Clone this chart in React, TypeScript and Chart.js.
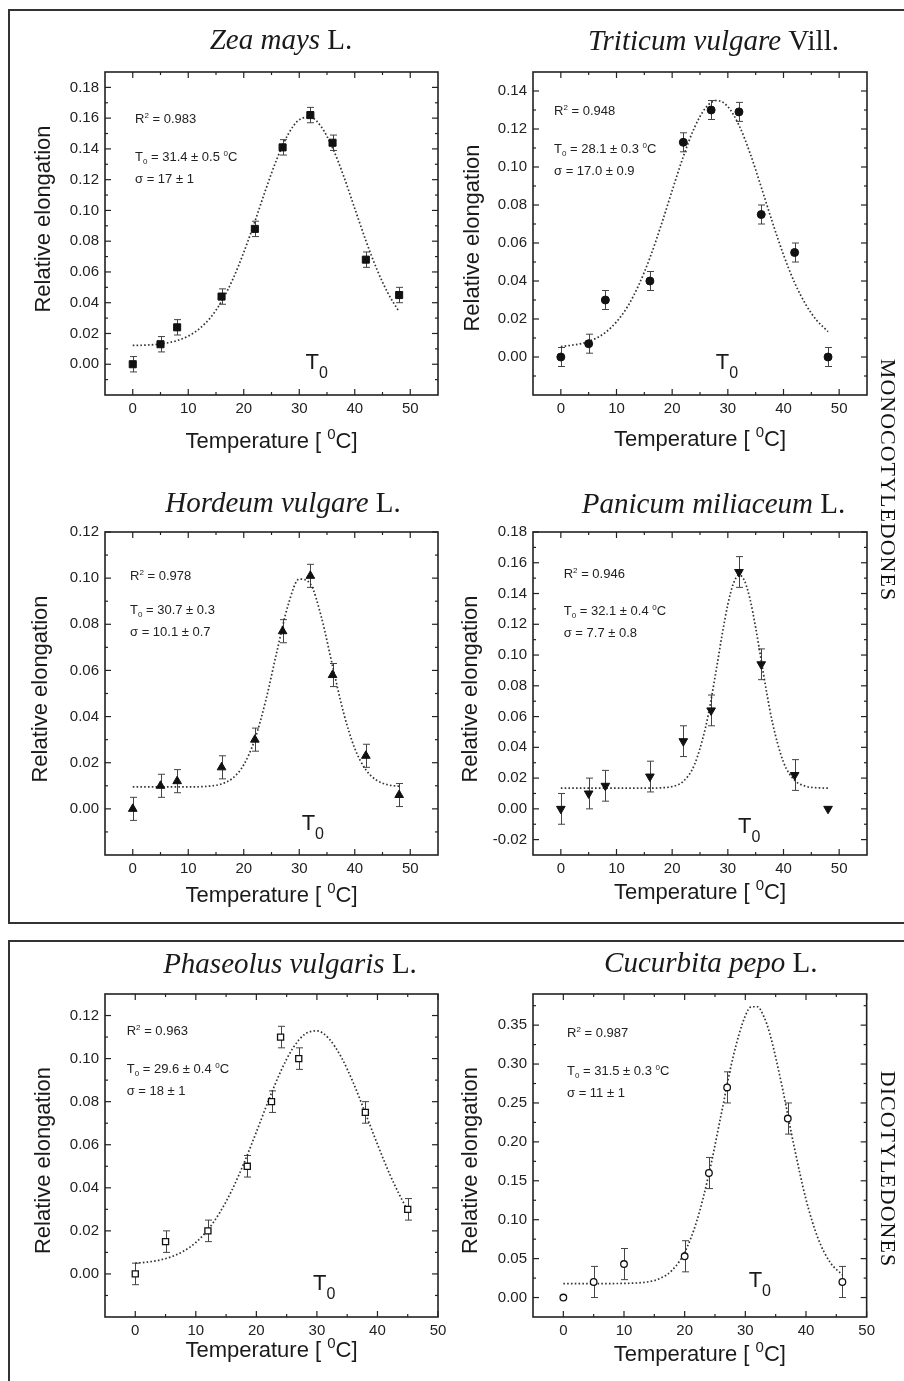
import React, { useEffect, useRef } from "react";
import { Chart, registerables } from "chart.js";

Chart.register(...registerables);

const SANS = "'Liberation Sans', Arial, sans-serif";
const SERIF = "'Liberation Serif', 'Times New Roman', serif";

// ---------------- shared tick labels ----------------
const tempTicks = [0, 10, 20, 30, 40, 50];

// ---------------- Zea mays L. ----------------
const zeaTemp = [0, 5, 8, 16, 22, 27, 32, 36, 42, 48];
const zeaElong = [0.0, 0.013, 0.024, 0.044, 0.088, 0.141, 0.162, 0.144, 0.068, 0.045];
const zeaErr = [0.005, 0.005, 0.005, 0.005, 0.005, 0.005, 0.005, 0.005, 0.005, 0.005];
const zeaFitTemp = [0, 2, 4, 6, 8, 10, 12, 14, 16, 18, 20, 22, 24, 26, 28, 30, 32, 34, 36, 38, 40, 42, 44, 46, 48];
const zeaFitElong = [0.0122, 0.0124, 0.0128, 0.0137, 0.0154, 0.0183, 0.0231, 0.0303, 0.0409, 0.055, 0.0727, 0.0928, 0.114, 0.1337, 0.1495, 0.159, 0.1606, 0.1542, 0.1407, 0.1223, 0.1013, 0.0804, 0.0616, 0.0461, 0.0341];
const zeaYTicks = [0, 0.02, 0.04, 0.06, 0.08, 0.1, 0.12, 0.14, 0.16, 0.18];

// ---------------- Triticum vulgare Vill. ----------------
const triTemp = [0, 5, 8, 16, 22, 27, 32, 36, 42, 48];
const triElong = [0.0, 0.007, 0.03, 0.04, 0.113, 0.13, 0.129, 0.075, 0.055, 0.0];
const triErr = [0.005, 0.005, 0.005, 0.005, 0.005, 0.005, 0.005, 0.005, 0.005, 0.005];
const triFitTemp = [0, 2, 4, 6, 8, 10, 12, 14, 16, 18, 20, 22, 24, 26, 28, 30, 32, 34, 36, 38, 40, 42, 44, 46, 48];
const triFitElong = [0.0055, 0.0062, 0.0073, 0.0094, 0.0129, 0.0185, 0.0266, 0.0379, 0.0522, 0.0692, 0.0876, 0.1055, 0.1207, 0.1311, 0.135, 0.1318, 0.122, 0.1072, 0.0894, 0.071, 0.0538, 0.0391, 0.0276, 0.0192, 0.0134];
const triYTicks = [0, 0.02, 0.04, 0.06, 0.08, 0.1, 0.12, 0.14];

// ---------------- Hordeum vulgare L. ----------------
const horTemp = [0, 5, 8, 16, 22, 27, 32, 36, 42, 48];
const horElong = [0.0, 0.01, 0.012, 0.018, 0.03, 0.077, 0.101, 0.058, 0.023, 0.006];
const horErr = [0.005, 0.005, 0.005, 0.005, 0.005, 0.005, 0.005, 0.005, 0.005, 0.005];
const horFitTemp = [0, 2, 4, 6, 8, 10, 12, 14, 16, 18, 20, 22, 24, 26, 28, 30, 32, 34, 36, 38, 40, 42, 44, 46, 48];
const horFitElong = [0.0095, 0.0095, 0.0095, 0.0095, 0.0095, 0.0095, 0.0096, 0.0099, 0.0108, 0.0133, 0.0191, 0.0301, 0.0473, 0.0685, 0.0884, 0.0996, 0.0975, 0.083, 0.062, 0.0415, 0.0262, 0.0169, 0.0123, 0.0104, 0.0098];
const horYTicks = [0, 0.02, 0.04, 0.06, 0.08, 0.1, 0.12];

// ---------------- Panicum miliaceum L. ----------------
const panTemp = [0, 5, 8, 16, 22, 27, 32, 36, 42, 48];
const panElong = [0.0, 0.01, 0.015, 0.021, 0.044, 0.064, 0.154, 0.094, 0.022, 0.0];
const panErr = [0.01, 0.01, 0.01, 0.01, 0.01, 0.01, 0.01, 0.01, 0.01, 0];
const panFitTemp = [0, 2, 4, 6, 8, 10, 12, 14, 16, 18, 20, 22, 24, 26, 27, 28, 29, 30, 31, 32, 33, 34, 35, 36, 37, 38, 40, 42, 44, 46, 48];
const panFitElong = [0.0135, 0.0135, 0.0135, 0.0135, 0.0135, 0.0135, 0.0135, 0.0135, 0.0135, 0.0137, 0.0145, 0.0179, 0.0287, 0.053, 0.0711, 0.0921, 0.1137, 0.1329, 0.1465, 0.152, 0.1483, 0.1361, 0.1178, 0.0965, 0.0752, 0.0563, 0.0304, 0.0186, 0.0147, 0.0137, 0.0135];
const panYTicks = [-0.02, 0, 0.02, 0.04, 0.06, 0.08, 0.1, 0.12, 0.14, 0.16, 0.18];

// ---------------- Phaseolus vulgaris L. ----------------
const phaTemp = [0, 5, 12, 18.5, 22.5, 24, 27, 38, 45];
const phaElong = [0.0, 0.015, 0.02, 0.05, 0.08, 0.11, 0.1, 0.075, 0.03];
const phaErr = [0.005, 0.005, 0.005, 0.005, 0.005, 0.005, 0.005, 0.005, 0.005];
const phaFitTemp = [0, 2, 4, 6, 8, 10, 12, 14, 16, 18, 20, 22, 24, 26, 28, 30, 32, 34, 36, 38, 40, 42, 44, 45];
const phaFitElong = [0.005, 0.0055, 0.0064, 0.008, 0.0106, 0.0146, 0.0205, 0.0287, 0.0391, 0.0518, 0.0659, 0.0805, 0.0939, 0.1047, 0.1113, 0.1129, 0.1092, 0.1008, 0.0888, 0.0747, 0.0602, 0.0465, 0.0347, 0.0296];
const phaYTicks = [0, 0.02, 0.04, 0.06, 0.08, 0.1, 0.12];

// ---------------- Cucurbita pepo L. ----------------
const cucTemp = [0, 5, 10, 20, 24, 27, 37, 46];
const cucElong = [0.0, 0.02, 0.043, 0.053, 0.16, 0.27, 0.23, 0.02];
const cucErr = [0, 0.02, 0.02, 0.02, 0.02, 0.02, 0.02, 0.02];
const cucFitTemp = [0, 2, 4, 6, 8, 10, 12, 14, 16, 18, 20, 22, 24, 26, 28, 30, 31, 32, 33, 34, 36, 38, 40, 42, 44, 46];
const cucFitElong = [0.018, 0.018, 0.018, 0.018, 0.018, 0.0182, 0.0187, 0.0203, 0.0247, 0.0356, 0.0581, 0.0983, 0.1589, 0.2345, 0.3096, 0.362, 0.3736, 0.3736, 0.362, 0.3399, 0.2734, 0.1956, 0.1262, 0.0757, 0.045, 0.0291];
const cucYTicks = [0, 0.05, 0.1, 0.15, 0.2, 0.25, 0.3, 0.35];

// ---------------- panel descriptions ----------------
type Panel = {
  key: string;
  italic: string;
  plain: string;
  temp: number[];
  elong: number[];
  err: number[];
  fitTemp: number[];
  fitElong: number[];
  yTicks: number[];
  yMin: number;
  yMax: number;
  yMinor: number;
  xMin: number;
  xMax: number;
  xMinor: number;
  r2: string;
  t0Text: string;
  t0Unit: boolean;
  sigma: string;
  t0: number;
  marker: { style: string; rot: number; fill: string; r: number };
  canvas: { x: number; y: number; w: number; h: number };
  area: { l: number; t: number; r: number; b: number };
  titleDx: number;
  titleDy: number;
  yTitle: { dx: number; dy: number };
  xTitleDy: number;
  ann: { dx: number; b1: number; b2: number; b3: number };
  t0Dy: number;
};

const PANELS: Panel[] = [
  {
    key: "zea", italic: "Zea mays", plain: " L.",
    temp: zeaTemp, elong: zeaElong, err: zeaErr, fitTemp: zeaFitTemp, fitElong: zeaFitElong,
    yTicks: zeaYTicks, yMin: -0.02, yMax: 0.19, yMinor: 0.01, xMin: -5, xMax: 55, xMinor: 5,
    r2: "0.983", t0Text: "31.4 ± 0.5", t0Unit: true, sigma: "17 ± 1", t0: 31.4,
    marker: { style: "rect", rot: 0, fill: "#111", r: 5 },
    canvas: { x: 11, y: 14, w: 441, h: 446 }, area: { l: 105, t: 72, r: 438, b: 395 },
    titleDx: 9.5, titleDy: 22.7, yTitle: { dx: -61, dy: -14.5 }, xTitleDy: 53,
    ann: { dx: 30, b1: 50.7, b2: 88.7, b3: 110.7 }, t0Dy: 26,
  },
  {
    key: "tri", italic: "Triticum vulgare", plain: " Vill.",
    temp: triTemp, elong: triElong, err: triErr, fitTemp: triFitTemp, fitElong: triFitElong,
    yTicks: triYTicks, yMin: -0.02, yMax: 0.15, yMinor: 0.01, xMin: -5, xMax: 55, xMinor: 5,
    r2: "0.948", t0Text: "28.1 ± 0.3", t0Unit: true, sigma: "17.0 ± 0.9", t0: 28.1,
    marker: { style: "circle", rot: 0, fill: "#111", r: 4 },
    canvas: { x: 456, y: 14, w: 424, h: 446 }, area: { l: 533, t: 72, r: 867, b: 395 },
    titleDx: 13.5, titleDy: 22, yTitle: { dx: -60, dy: 4.5 }, xTitleDy: 51,
    ann: { dx: 21, b1: 43, b2: 80.7, b3: 103 }, t0Dy: 26,
  },
  {
    key: "hor", italic: "Hordeum vulgare", plain: " L.",
    temp: horTemp, elong: horElong, err: horErr, fitTemp: horFitTemp, fitElong: horFitElong,
    yTicks: horYTicks, yMin: -0.02, yMax: 0.12, yMinor: 0.01, xMin: -5, xMax: 55, xMinor: 5,
    r2: "0.978", t0Text: "30.7 ± 0.3", t0Unit: false, sigma: "10.1 ± 0.7", t0: 30.7,
    marker: { style: "triangle", rot: 0, fill: "#111", r: 5 },
    canvas: { x: 11, y: 470, w: 441, h: 450 }, area: { l: 105, t: 532, r: 438, b: 855 },
    titleDx: 11.5, titleDy: 20.3, yTitle: { dx: -64, dy: -4.5 }, xTitleDy: 47,
    ann: { dx: 25, b1: 48, b2: 82, b3: 104 }, t0Dy: 25,
  },
  {
    key: "pan", italic: "Panicum miliaceum", plain: " L.",
    temp: panTemp, elong: panElong, err: panErr, fitTemp: panFitTemp, fitElong: panFitElong,
    yTicks: panYTicks, yMin: -0.03, yMax: 0.18, yMinor: 0.01, xMin: -5, xMax: 55, xMinor: 5,
    r2: "0.946", t0Text: "32.1 ± 0.4", t0Unit: true, sigma: "7.7 ± 0.8", t0: 32.1,
    marker: { style: "triangle", rot: 180, fill: "#111", r: 5 },
    canvas: { x: 456, y: 470, w: 424, h: 450 }, area: { l: 533, t: 532, r: 867, b: 855 },
    titleDx: 13.5, titleDy: 19, yTitle: { dx: -62, dy: -4.5 }, xTitleDy: 44,
    ann: { dx: 30.7, b1: 46, b2: 83, b3: 104.7 }, t0Dy: 22,
  },
  {
    key: "pha", italic: "Phaseolus vulgaris", plain: " L.",
    temp: phaTemp, elong: phaElong, err: phaErr, fitTemp: phaFitTemp, fitElong: phaFitElong,
    yTicks: phaYTicks, yMin: -0.02, yMax: 0.13, yMinor: 0.01, xMin: -5, xMax: 50, xMinor: 5,
    r2: "0.963", t0Text: "29.6 ± 0.4", t0Unit: true, sigma: "18 ± 1", t0: 29.6,
    marker: { style: "rect", rot: 0, fill: "#fff", r: 4.3 },
    canvas: { x: 11, y: 944, w: 441, h: 437 }, area: { l: 105, t: 994, r: 438, b: 1317 },
    titleDx: 18.5, titleDy: 21, yTitle: { dx: -61, dy: 5 }, xTitleDy: 40,
    ann: { dx: 21.7, b1: 41, b2: 79.3, b3: 101 }, t0Dy: 27,
  },
  {
    key: "cuc", italic: "Cucurbita pepo", plain: " L.",
    temp: cucTemp, elong: cucElong, err: cucErr, fitTemp: cucFitTemp, fitElong: cucFitElong,
    yTicks: cucYTicks, yMin: -0.025, yMax: 0.39, yMinor: 0.025, xMin: -5, xMax: 50, xMinor: 5,
    r2: "0.987", t0Text: "31.5 ± 0.3", t0Unit: true, sigma: "11 ± 1", t0: 30.8,
    marker: { style: "circle", rot: 0, fill: "#fff", r: 3.3 },
    canvas: { x: 456, y: 944, w: 424, h: 437 }, area: { l: 533, t: 994, r: 867, b: 1317 },
    titleDx: 11, titleDy: 22.3, yTitle: { dx: -62, dy: 5 }, xTitleDy: 44,
    ann: { dx: 34, b1: 42.7, b2: 81, b3: 102.7 }, t0Dy: 30,
  },
];

type Part = { t: string; font: string; dy?: number };

function drawRich(ctx: CanvasRenderingContext2D, parts: Part[], x: number, y: number, align: "left" | "center") {
  ctx.textAlign = "left";
  ctx.textBaseline = "alphabetic";
  const widths = parts.map((p) => {
    ctx.font = p.font;
    return ctx.measureText(p.t).width;
  });
  const total = widths.reduce((s, w) => s + w, 0);
  let cx = align === "center" ? x - total / 2 : x;
  parts.forEach((p, i) => {
    ctx.font = p.font;
    ctx.fillText(p.t, cx, y + (p.dy || 0));
    cx += widths[i];
  });
}

function minorValues(min: number, max: number, step: number, majors: number[]) {
  const out: number[] = [];
  const n0 = Math.ceil(min / step - 1e-6);
  const n1 = Math.floor(max / step + 1e-6);
  for (let n = n0; n <= n1; n++) {
    const v = n * step;
    if (Math.abs(v - min) < 1e-9 || Math.abs(v - max) < 1e-9) continue;
    if (majors.some((m) => Math.abs(m - v) < step * 1e-3)) continue;
    out.push(v);
  }
  return out;
}

function makePlugin(p: Panel) {
  return {
    id: "decor_" + p.key,
    beforeDatasetsDraw(chart: any) {
      const { ctx, scales } = chart;
      const xs = scales.x;
      const ys = scales.y;
      ctx.save();
      ctx.strokeStyle = "#444";
      ctx.lineWidth = 1;
      p.temp.forEach((t, i) => {
        const e = p.err[i];
        if (!e) return;
        const px = Math.round(xs.getPixelForValue(t)) + 0.5;
        const y1 = ys.getPixelForValue(p.elong[i] - e);
        const y2 = ys.getPixelForValue(p.elong[i] + e);
        ctx.beginPath();
        ctx.moveTo(px, y1);
        ctx.lineTo(px, y2);
        ctx.moveTo(px - 3.5, y1);
        ctx.lineTo(px + 3.5, y1);
        ctx.moveTo(px - 3.5, y2);
        ctx.lineTo(px + 3.5, y2);
        ctx.stroke();
      });
      ctx.restore();
    },
    afterDraw(chart: any) {
      const { ctx, chartArea: a, scales } = chart;
      const xs = scales.x;
      const ys = scales.y;
      ctx.save();
      // frame
      ctx.strokeStyle = "#222";
      ctx.lineWidth = 1.6;
      ctx.strokeRect(a.left, a.top, a.right - a.left, a.bottom - a.top);
      // ticks (inward, mirrored)
      ctx.lineWidth = 1.2;
      const line = (x1: number, y1: number, x2: number, y2: number) => {
        ctx.beginPath();
        ctx.moveTo(x1, y1);
        ctx.lineTo(x2, y2);
        ctx.stroke();
      };
      const xMaj = tempTicks.filter((v) => v >= p.xMin && v <= p.xMax);
      const xMin = minorValues(p.xMin, p.xMax, p.xMinor, xMaj);
      xMaj.forEach((v) => {
        const px = xs.getPixelForValue(v);
        line(px, a.bottom, px, a.bottom - 6);
        line(px, a.top, px, a.top + 6);
      });
      xMin.forEach((v) => {
        const px = xs.getPixelForValue(v);
        line(px, a.bottom, px, a.bottom - 3);
        line(px, a.top, px, a.top + 3);
      });
      const yMin = minorValues(p.yMin, p.yMax, p.yMinor, p.yTicks);
      p.yTicks.forEach((v) => {
        const py = ys.getPixelForValue(v);
        line(a.left, py, a.left + 6, py);
        line(a.right, py, a.right - 6, py);
      });
      yMin.forEach((v) => {
        const py = ys.getPixelForValue(v);
        line(a.left, py, a.left + 3, py);
        line(a.right, py, a.right - 3, py);
      });

      ctx.fillStyle = "#1a1a1a";
      const midX = (a.left + a.right) / 2;
      const midY = (a.top + a.bottom) / 2;

      // panel title
      drawRich(
        ctx,
        [
          { t: p.italic, font: `italic 29px ${SERIF}` },
          { t: p.plain, font: `29px ${SERIF}` },
        ],
        midX + p.titleDx,
        a.top - p.titleDy,
        "center"
      );

      // x axis title
      drawRich(
        ctx,
        [
          { t: "Temperature [ ", font: `22px ${SANS}` },
          { t: "0", font: `15px ${SANS}`, dy: -9 },
          { t: "C]", font: `22px ${SANS}` },
        ],
        midX,
        a.bottom + p.xTitleDy,
        "center"
      );

      // y axis title
      ctx.save();
      ctx.translate(a.left + p.yTitle.dx, midY + p.yTitle.dy);
      ctx.rotate(-Math.PI / 2);
      ctx.font = `22px ${SANS}`;
      ctx.textAlign = "center";
      ctx.textBaseline = "middle";
      ctx.fillText("Relative elongation", 0, 0);
      ctx.restore();

      // fit annotations
      const ax = a.left + p.ann.dx;
      ctx.fillStyle = "#222";
      drawRich(
        ctx,
        [
          { t: "R", font: `13px ${SANS}` },
          { t: "2", font: `8px ${SANS}`, dy: -5 },
          { t: " = " + p.r2, font: `13px ${SANS}` },
        ],
        ax,
        a.top + p.ann.b1,
        "left"
      );
      const t0Parts: Part[] = [
        { t: "T", font: `13px ${SANS}` },
        { t: "0", font: `8px ${SANS}`, dy: 3 },
        { t: " = " + p.t0Text + (p.t0Unit ? " " : ""), font: `13px ${SANS}` },
      ];
      if (p.t0Unit) {
        t0Parts.push({ t: "0", font: `8px ${SANS}`, dy: -5 });
        t0Parts.push({ t: "C", font: `13px ${SANS}` });
      }
      drawRich(ctx, t0Parts, ax, a.top + p.ann.b2, "left");
      drawRich(ctx, [{ t: "\u03c3 = " + p.sigma, font: `13px ${SANS}` }], ax, a.top + p.ann.b3, "left");

      // big T0 marker label
      ctx.fillStyle = "#1a1a1a";
      drawRich(
        ctx,
        [
          { t: "T", font: `22px ${SANS}` },
          { t: "0", font: `16px ${SANS}`, dy: 9 },
        ],
        xs.getPixelForValue(p.t0) - 1.5,
        a.bottom - p.t0Dy,
        "left"
      );
      ctx.restore();
    },
  };
}

function PanelChart({ p }: { p: Panel }) {
  const ref = useRef<HTMLCanvasElement | null>(null);
  useEffect(() => {
    if (!ref.current) return;
    const Wy = p.area.l - p.canvas.x;
    const Hx = p.canvas.y + p.canvas.h - p.area.b;
    const padTop = p.area.t - p.canvas.y;
    const padRight = p.canvas.x + p.canvas.w - p.area.r;
    const points = p.temp.map((t, i) => ({ x: t, y: p.elong[i] }));
    const fit = p.fitTemp.map((t, i) => ({ x: t, y: p.fitElong[i] }));
    const chart = new Chart(ref.current, {
      type: "scatter",
      data: {
        datasets: [
          {
            label: "data",
            data: points,
            order: 0,
            pointStyle: p.marker.style as any,
            pointRotation: p.marker.rot,
            pointRadius: p.marker.r,
            pointBackgroundColor: p.marker.fill,
            pointBorderColor: "#111",
            pointBorderWidth: p.marker.fill === "#fff" ? 1.3 : 1,
            showLine: false,
          },
          {
            label: "fit",
            data: fit,
            order: 1,
            showLine: true,
            pointRadius: 0,
            borderColor: "#333",
            borderWidth: 1.7,
            borderDash: [1.6, 2.2],
            cubicInterpolationMode: "monotone",
            fill: false,
          },
        ],
      } as any,
      options: {
        animation: false,
        responsive: false,
        maintainAspectRatio: false,
        devicePixelRatio: 1,
        events: [],
        layout: { padding: { left: 0, top: padTop, right: padRight, bottom: 0 } },
        plugins: {
          legend: { display: false },
          tooltip: { enabled: false },
          title: { display: false },
        },
        scales: {
          x: {
            type: "linear",
            min: p.xMin,
            max: p.xMax,
            grid: { display: false, drawTicks: false },
            border: { display: false },
            ticks: {
              font: { family: SANS, size: 15 },
              color: "#222",
              padding: 5,
              maxRotation: 0,
              autoSkip: false,
              callback: (v: any) => String(v),
            },
            afterBuildTicks: (s: any) => {
              s.ticks = tempTicks.filter((v) => v >= p.xMin && v <= p.xMax).map((v) => ({ value: v }));
            },
            afterFit: (s: any) => {
              s.height = Hx;
            },
          },
          y: {
            type: "linear",
            min: p.yMin,
            max: p.yMax,
            grid: { display: false, drawTicks: false },
            border: { display: false },
            ticks: {
              font: { family: SANS, size: 15 },
              color: "#222",
              padding: 6,
              autoSkip: false,
              callback: (v: any) => Number(v).toFixed(2),
            },
            afterBuildTicks: (s: any) => {
              s.ticks = p.yTicks.map((v) => ({ value: v }));
            },
            afterFit: (s: any) => {
              s.width = Wy;
            },
          },
        },
      } as any,
      plugins: [makePlugin(p)],
    });
    return () => chart.destroy();
  }, [p]);
  return (
    <canvas
      ref={ref}
      width={p.canvas.w}
      height={p.canvas.h}
      style={{ position: "absolute", left: p.canvas.x, top: p.canvas.y, width: p.canvas.w, height: p.canvas.h }}
    />
  );
}

function SideLabel({ text, cx, cy }: { text: string; cx: number; cy: number }) {
  const w = 280;
  return (
    <div
      style={{
        position: "absolute",
        left: cx - w / 2,
        top: cy - 11,
        width: w,
        height: 22,
        lineHeight: "22px",
        textAlign: "center",
        font: `22px ${SERIF}`,
        letterSpacing: "1px",
        whiteSpace: "nowrap",
        color: "#111",
        transform: "rotate(90deg)",
        transformOrigin: "50% 50%",
      }}
    >
      {text}
    </div>
  );
}

export default function App() {
  return (
    <div
      style={{
        position: "absolute",
        left: 0,
        top: 0,
        width: 904,
        height: 1381,
        overflow: "hidden",
        background: "#fff",
      }}
    >
      <div
        style={{
          position: "absolute",
          left: 8,
          top: 9,
          width: 1000,
          height: 915,
          boxSizing: "border-box",
          borderTop: "2px solid #333",
          borderLeft: "2px solid #333",
          borderBottom: "2px solid #333",
        }}
      />
      <div
        style={{
          position: "absolute",
          left: 8,
          top: 940,
          width: 1000,
          height: 600,
          boxSizing: "border-box",
          borderTop: "2px solid #333",
          borderLeft: "2px solid #333",
        }}
      />
      {PANELS.map((p) => (
        <PanelChart key={p.key} p={p} />
      ))}
      <SideLabel text="MONOCOTYLEDONES" cx={890} cy={480} />
      <SideLabel text="DICOTYLEDONES" cx={890} cy={1169} />
    </div>
  );
}
